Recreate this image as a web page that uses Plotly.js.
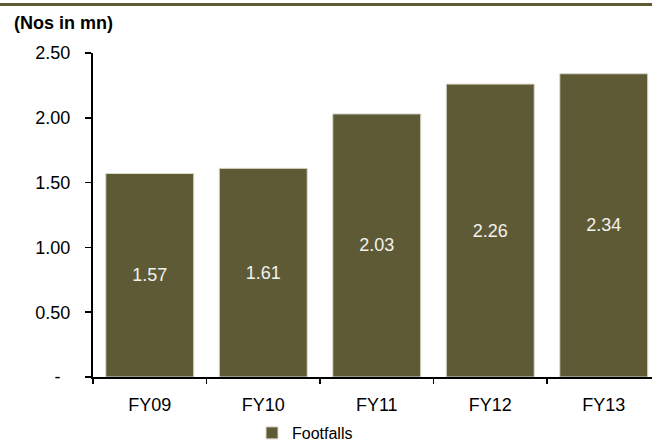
<!DOCTYPE html>
<html>
<head>
<meta charset="utf-8">
<script src="https://cdn.plot.ly/plotly-3.0.1.min.js"></script>
<style>
  html, body { margin: 0; padding: 0; background: #ffffff; }
  #chart { width: 652px; height: 443px; }
</style>
</head>
<body>
<div id="chart"></div>
<script>
// Annual footfalls, in millions
const years = ['FY09', 'FY10', 'FY11', 'FY12', 'FY13'];
const footfalls = [1.57, 1.61, 2.03, 2.26, 2.34];
const seriesName = 'Footfalls';
const unitLabel = '(Nos in mn)';
const yTickVals = [0, 0.5, 1.0, 1.5, 2.0, 2.5];
const yTickText = ['-\u00a0\u00a0', '0.50', '1.00', '1.50', '2.00', '2.50'];

const olive = '#5e5a36';
const font = 'Liberation Sans, Arial, sans-serif';

const W = 652, H = 443;
const margin = { l: 93, r: 0, t: 53, b: 65.5 };
const plotW = W - margin.l - margin.r;
const plotH = H - margin.t - margin.b;

const trace = {
  type: 'bar',
  name: seriesName,
  x: years,
  y: footfalls,
  marker: { color: olive, line: { color: '#d9d9cc', width: 1 } },
  text: footfalls.map(v => v.toFixed(2)),
  textposition: 'inside',
  insidetextanchor: 'middle',
  textangle: 0,
  constraintext: 'none',
  textfont: { family: font, size: 18, color: '#f2f2ee' },
  hoverinfo: 'x+y'
};

const layout = {
  width: W,
  height: H,
  margin: Object.assign({ autoexpand: false }, margin),
  paper_bgcolor: '#ffffff',
  plot_bgcolor: '#ffffff',
  font: { family: font, size: 18, color: '#000000' },
  bargap: 0.225,
  showlegend: true,
  legend: {
    orientation: 'h',
    xref: 'container',
    yref: 'container',
    x: 252 / W,
    xanchor: 'left',
    y: (H - 433) / H,
    yanchor: 'middle',
    font: { family: font, size: 16, color: '#000000' },
    bgcolor: 'rgba(0,0,0,0)'
  },
  xaxis: {
    type: 'category',
    range: [-0.5, -0.5 + plotW / 113.5],
    showline: true,
    linecolor: '#000000',
    linewidth: 2,
    ticks: 'outside',
    tickson: 'boundaries',
    ticklen: 5,
    tickwidth: 1.5,
    tickcolor: '#000000',
    ticklabelstandoff: 10,
    showgrid: false,
    zeroline: false,
    tickfont: { family: font, size: 18, color: '#000000' }
  },
  yaxis: {
    range: [0, 2.5],
    tickvals: yTickVals,
    ticktext: yTickText,
    showline: true,
    linecolor: '#000000',
    linewidth: 2,
    ticks: 'outside',
    ticklen: 6,
    tickwidth: 1.5,
    tickcolor: '#000000',
    ticklabelstandoff: 11,
    showgrid: false,
    zeroline: false,
    tickfont: { family: font, size: 18, color: '#000000' }
  },
  shapes: [{
    type: 'line',
    xref: 'paper', yref: 'paper',
    x0: -margin.l / plotW, x1: 1,
    y0: 1 + (margin.t - 4.5) / plotH, y1: 1 + (margin.t - 4.5) / plotH,
    line: { color: olive, width: 3 }
  }],
  annotations: [{
    text: '<b>' + unitLabel + '</b>',
    xref: 'paper', yref: 'paper',
    x: (12 - margin.l) / plotW, xanchor: 'left',
    y: 1 + (margin.t - 23) / plotH, yanchor: 'middle',
    showarrow: false,
    font: { family: font, size: 18, color: '#000000' }
  }]
};

Plotly.newPlot('chart', [trace], layout, { displayModeBar: false, staticPlot: true });
</script>
</body>
</html>
